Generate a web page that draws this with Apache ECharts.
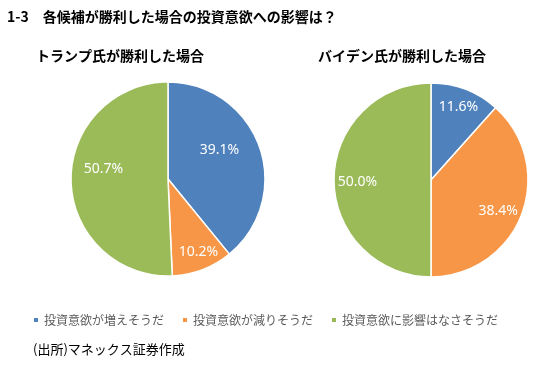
<!DOCTYPE html>
<html>
<head>
<meta charset="utf-8">
<script src="https://cdn.jsdelivr.net/npm/echarts@6/dist/echarts.min.js"></script>
<style>
html,body{margin:0;padding:0;background:#fff;}
#chart{width:548px;height:366px;}
</style>
</head>
<body>
<div id="chart"></div>
<script>
var categories = ['投資意欲が増えそうだ', '投資意欲が減りそうだ', '投資意欲に影響はなさそうだ'];
var trumpValues = [39.1, 10.2, 50.7];
var bidenValues = [11.6, 38.4, 50.0];
var colors = ['#4F81BD', '#F79646', '#9BBB59'];
var titleText = '1-3\u3000各候補が勝利した場合の投資意欲への影響は？';
var subTitles = ['トランプ氏が勝利した場合', 'バイデン氏が勝利した場合'];
var sourceText = '(出所)マネックス証券作成';

// label nudges (style only) to mimic the reference label placement
var trumpOffsets = [[3, -12], [12, 25], [-13, -11]];
var bidenOffsets = [[9, -25], [19, 13], [-22, 2]];

var jp = '"Noto Sans CJK JP", "Noto Sans", sans-serif';

function buildData(values, offsets) {
  return values.map(function (v, i) {
    return {
      name: categories[i],
      value: v,
      itemStyle: { color: colors[i] },
      label: { offset: offsets[i] }
    };
  });
}

function pieSeries(values, offsets, center) {
  return {
    type: 'pie',
    radius: [0, 97],
    center: center,
    startAngle: 90,
    clockwise: true,
    silent: true,
    animation: false,
    itemStyle: { borderColor: '#ffffff', borderWidth: 1.5 },
    label: {
      show: true,
      position: 'inside',
      color: '#ffffff',
      fontSize: 14,
      fontFamily: '"Noto Sans", sans-serif',
      formatter: function (p) { return p.value.toFixed(1) + '%'; }
    },
    labelLine: { show: false },
    emphasis: { disabled: true },
    data: buildData(values, offsets)
  };
}

var chart = echarts.init(document.getElementById('chart'), null, { renderer: 'canvas' });
chart.setOption({
  backgroundColor: '#ffffff',
  animation: false,
  title: [
    { text: titleText, left: 2, top: 5,
      textStyle: { fontSize: 14, fontWeight: 'bold', color: '#000', fontFamily: jp } },
    { text: subTitles[0], left: 31, top: 44,
      textStyle: { fontSize: 14, fontWeight: 'bold', color: '#000', fontFamily: jp } },
    { text: subTitles[1], left: 313, top: 44,
      textStyle: { fontSize: 14, fontWeight: 'bold', color: '#000', fontFamily: jp } },
    { text: sourceText, left: 28, top: 338,
      textStyle: { fontSize: 13, fontWeight: 'normal', color: '#000', fontFamily: jp } }
  ],
  legend: {
    data: categories,
    left: 27,
    top: 309,
    icon: 'rect',
    itemWidth: 6,
    itemHeight: 6,
    itemGap: 17,
    selectedMode: false,
    textStyle: { fontSize: 12, color: '#595959', fontFamily: jp }
  },
  series: [
    pieSeries(trumpValues, trumpOffsets, [168, 179]),
    pieSeries(bidenValues, bidenOffsets, [431, 180])
  ]
});
</script>
</body>
</html>
